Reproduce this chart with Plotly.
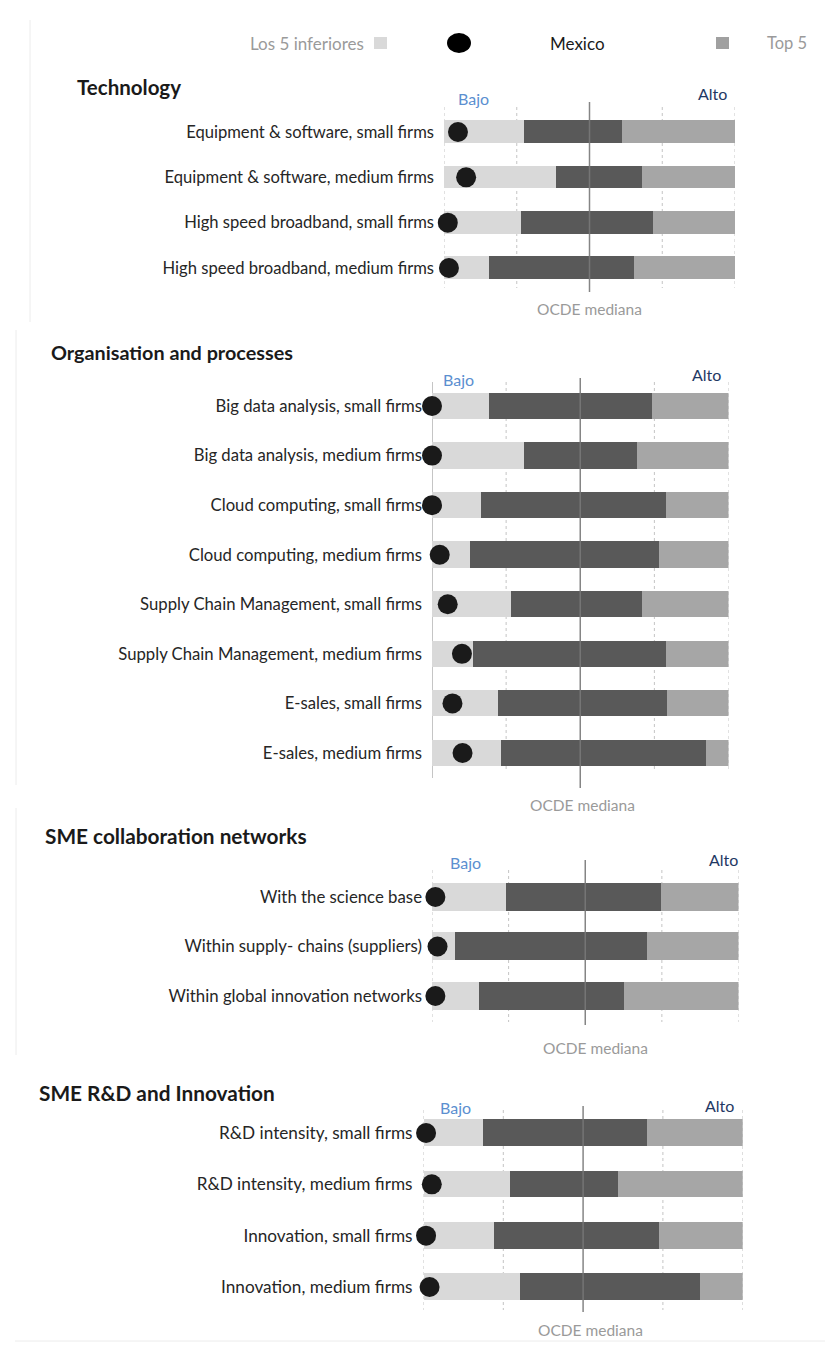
import plotly.graph_objects as go

W, H = 825, 1347

# ---------------- DATA ----------------
tech_labels = ["Equipment & software, small firms", "Equipment & software, medium firms",
               "High speed broadband, small firms", "High speed broadband, medium firms"]
tech_bottom5 = [27.5, 38.5, 26.4, 15.6]
tech_top5 = [61.1, 68.0, 71.9, 65.4]
tech_mexico = [4.8, 7.6, 1.3, 1.7]

org_labels = ["Big data analysis, small firms", "Big data analysis, medium firms",
              "Cloud computing, small firms", "Cloud computing, medium firms",
              "Supply Chain Management, small firms", "Supply Chain Management, medium firms",
              "E-sales, small firms", "E-sales, medium firms"]
org_bottom5 = [19.2, 31.0, 16.4, 12.7, 26.8, 13.7, 22.1, 23.2]
org_top5 = [74.1, 69.1, 78.9, 76.4, 70.7, 78.9, 79.1, 92.3]
org_mexico = [0.0, 0.0, 0.0, 2.6, 5.3, 10.1, 6.9, 10.3]

col_labels = ["With the science base", "Within supply- chains (suppliers)",
              "Within global innovation networks"]
col_bottom5 = [24.3, 7.6, 15.3]
col_top5 = [74.7, 70.1, 62.7]
col_mexico = [1.1, 1.8, 1.1]

rd_labels = ["R&D intensity, small firms", "R&D intensity, medium firms",
             "Innovation, small firms", "Innovation, medium firms"]
rd_bottom5 = [18.6, 26.8, 21.9, 30.0]
rd_top5 = [70.0, 60.7, 73.7, 86.6]
rd_mexico = [0.8, 2.6, 0.8, 1.9]

panel_titles = ["Technology", "Organisation and processes",
                "SME collaboration networks", "SME R&D and Innovation"]
grid_ticks = [0, 25, 50, 75, 100]
median_tick = 50

# ---------------- STYLE / LAYOUT ----------------
C_LIGHT = "#d9d9d9"
C_DARK = "#595959"
C_MID = "#a6a6a6"
C_DOT = "#1a1a1a"
FONT = "Lato"


def fx(p):
    return p / W


def fy(p):
    return 1 - p / H


panels = [
    dict(labels=tech_labels, b5=tech_bottom5, t5=tech_top5, mx=tech_mexico,
         x0=444, x1=735, top=109.3, bottom=290.7, bw=0.50, fs=16.6, standoff=9,
         title=(75, 87), tfs=20.5, bajo=(473, 98), alto=(712, 93), ocde=(589, 309),
         grid=(107, 288), med=(102, 292), solid_axis=False),
    dict(labels=org_labels, b5=org_bottom5, t5=org_top5, mx=org_mexico,
         x0=432, x1=728.5, top=381.2, bottom=777.8, bw=0.53, fs=16.7, standoff=9,
         title=(49, 352), tfs=19.8, bajo=(458, 380), alto=(706, 375), ocde=(582, 805),
         grid=(382, 772), med=(378, 788), solid_axis=True),
    dict(labels=col_labels, b5=col_bottom5, t5=col_top5, mx=col_mexico,
         x0=432, x1=738.5, top=872.3, bottom=1020.8, bw=0.57, fs=16.8, standoff=9,
         title=(43, 835), tfs=20.8, bajo=(465, 862), alto=(723, 860), ocde=(595, 1048),
         grid=(870, 1022), med=(860, 1025), solid_axis=False),
    dict(labels=rd_labels, b5=rd_bottom5, t5=rd_top5, mx=rd_mexico,
         x0=423.5, x1=742.7, top=1107.3, bottom=1312.7, bw=0.52, fs=17.2, standoff=10,
         title=(37, 1092), tfs=20.8, bajo=(455, 1107), alto=(719, 1105), ocde=(590, 1330),
         grid=(1110, 1310), med=(1106, 1312), solid_axis=False),
]

fig = go.Figure()
shapes = []
annotations = []
layout_axes = {}

for i, p in enumerate(panels, start=1):
    xa = "x" if i == 1 else f"x{i}"
    ya = "y" if i == 1 else f"y{i}"
    labels = p["labels"]
    mid_len = [t - b for b, t in zip(p["b5"], p["t5"])]
    top_len = [100 - t for t in p["t5"]]

    fig.add_trace(go.Bar(y=labels, x=p["b5"], orientation="h", marker_color=C_LIGHT,
                         width=p["bw"], xaxis=xa, yaxis=ya, showlegend=False,
                         marker_line_width=0, name="Los 5 inferiores"))
    fig.add_trace(go.Bar(y=labels, x=mid_len, orientation="h", marker_color=C_DARK,
                         width=p["bw"], xaxis=xa, yaxis=ya, showlegend=False,
                         marker_line_width=0, name="OCDE"))
    fig.add_trace(go.Bar(y=labels, x=top_len, orientation="h", marker_color=C_MID,
                         width=p["bw"], xaxis=xa, yaxis=ya, showlegend=False,
                         marker_line_width=0, name="Top 5"))
    fig.add_trace(go.Scatter(y=labels, x=p["mx"], mode="markers",
                             marker=dict(size=20, color=C_DOT), cliponaxis=False,
                             xaxis=xa, yaxis=ya, showlegend=False, name="Mexico"))

    n = len(labels)
    layout_axes["xaxis" if i == 1 else f"xaxis{i}"] = dict(
        domain=[fx(p["x0"]), fx(p["x1"])], range=[0, 100], anchor=ya,
        showgrid=False, zeroline=False, showticklabels=False, showline=False,
        fixedrange=True)
    layout_axes["yaxis" if i == 1 else f"yaxis{i}"] = dict(
        domain=[fy(p["bottom"]), fy(p["top"])], anchor=xa, type="category",
        categoryorder="array", categoryarray=labels, range=[n - 0.5, -0.5],
        showgrid=False, zeroline=False, showline=False, ticks="",
        ticklabelstandoff=p["standoff"],
        tickfont=dict(family=FONT, size=p["fs"], color="#262626"), fixedrange=True)

    # grid lines
    for t in grid_ticks:
        if t == median_tick:
            continue
        solid = p["solid_axis"] and t == 0
        shapes.append(dict(type="line", xref=xa, yref="paper", x0=t, x1=t,
                           y0=fy(p["grid"][0]), y1=fy(p["grid"][1] + (6 if solid else 0)),
                           line=dict(color="#8c8c8c" if solid else "#c4c4c4", width=1,
                                     dash="solid" if solid else "3px,3px"),
                           layer="below"))
    shapes.append(dict(type="line", xref=xa, yref="paper", x0=median_tick, x1=median_tick,
                       y0=fy(p["med"][0]), y1=fy(p["med"][1]),
                       line=dict(color="rgba(120,120,120,0.9)", width=1.5), layer="above"))

    # texts
    annotations.append(dict(text=f"<b>{panel_titles[i - 1]}</b>", xref="paper", yref="paper",
                            x=fx(p["title"][0]), y=fy(p["title"][1]), xanchor="left",
                            yanchor="middle", showarrow=False,
                            font=dict(family=FONT, size=p["tfs"], color="#1a1a1a")))
    annotations.append(dict(text="Bajo", xref="paper", yref="paper", x=fx(p["bajo"][0]),
                            y=fy(p["bajo"][1]), xanchor="center", yanchor="middle",
                            showarrow=False, font=dict(family=FONT, size=16, color="#5b8fd0")))
    annotations.append(dict(text="Alto", xref="paper", yref="paper", x=fx(p["alto"][0]),
                            y=fy(p["alto"][1]), xanchor="center", yanchor="middle",
                            showarrow=False, font=dict(family=FONT, size=16, color="#1f3864")))
    annotations.append(dict(text="OCDE mediana", xref="paper", yref="paper",
                            x=fx(p["ocde"][0]), y=fy(p["ocde"][1]), xanchor="center",
                            yanchor="middle", showarrow=False,
                            font=dict(family=FONT, size=15.5, color="#9a9a9a")))

# legend (top)
LEG_Y = 43
annotations.append(dict(text="Los 5 inferiores", xref="paper", yref="paper", x=fx(366), y=fy(LEG_Y),
                        xanchor="right", yanchor="middle", showarrow=False,
                        font=dict(family=FONT, size=17, color="#9a9a9a")))
shapes.append(dict(type="rect", xref="paper", yref="paper", x0=fx(374), x1=fx(387),
                   y0=fy(LEG_Y + 6), y1=fy(LEG_Y - 6), fillcolor=C_LIGHT, line_width=0))
shapes.append(dict(type="circle", xref="paper", yref="paper", x0=fx(447), x1=fx(471),
                   y0=fy(LEG_Y + 10), y1=fy(LEG_Y - 10), fillcolor="#000000", line_width=0))
annotations.append(dict(text="Mexico", xref="paper", yref="paper", x=fx(548), y=fy(LEG_Y),
                        xanchor="left", yanchor="middle", showarrow=False,
                        font=dict(family=FONT, size=17, color="#1a1a1a")))
shapes.append(dict(type="rect", xref="paper", yref="paper", x0=fx(716), x1=fx(729),
                   y0=fy(LEG_Y + 6), y1=fy(LEG_Y - 6), fillcolor="#a0a0a0", line_width=0))
annotations.append(dict(text="Top 5", xref="paper", yref="paper", x=fx(765), y=fy(LEG_Y),
                        xanchor="left", yanchor="middle", showarrow=False,
                        font=dict(family=FONT, size=16.5, color="#9a9a9a")))

# faint page borders from the pasted panels
for (x, y0, y1) in [(30, 20, 322), (16, 330, 785), (16, 808, 1055)]:
    shapes.append(dict(type="line", xref="paper", yref="paper", x0=fx(x), x1=fx(x),
                       y0=fy(y0), y1=fy(y1), line=dict(color="#ececec", width=1)))
shapes.append(dict(type="line", xref="paper", yref="paper", x0=fx(15), x1=fx(825),
                   y0=fy(1341), y1=fy(1341), line=dict(color="#ececec", width=1)))

fig.update_layout(
    width=W, height=H, margin=dict(l=0, r=0, t=0, b=0),
    paper_bgcolor="white", plot_bgcolor="rgba(0,0,0,0)",
    barmode="stack", bargap=0, showlegend=False,
    shapes=shapes, annotations=annotations, **layout_axes,
)

fig.write_html("out.html", config={"displayModeBar": False})
